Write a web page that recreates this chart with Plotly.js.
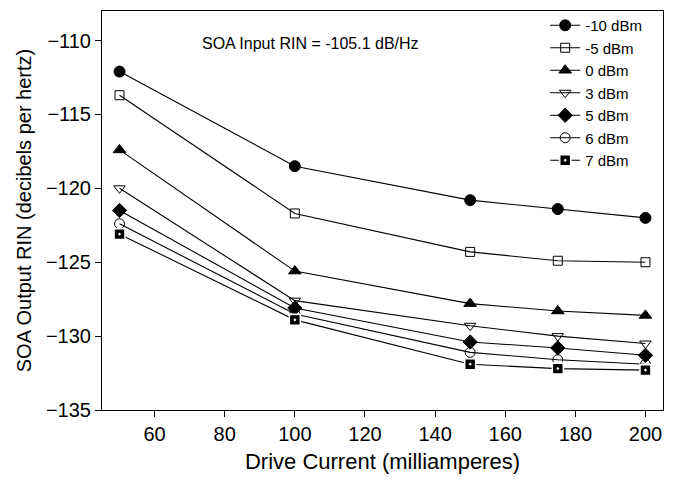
<!DOCTYPE html>
<html>
<head>
<meta charset="utf-8">
<script src="https://cdn.plot.ly/plotly-3.0.1.min.js"></script>
<style>html,body{margin:0;padding:0;background:#fff;}#chart{width:673px;height:480px;}</style>
</head>
<body>
<div id="chart"></div>
<script>
var driveCurrent = [50, 100, 150, 175, 200];
var seriesNames = ["-10 dBm", "-5 dBm", "0 dBm", "3 dBm", "5 dBm", "6 dBm", "7 dBm"];
var rinM10 = [-112.1, -118.5, -120.8, -121.4, -122.0];
var rinM5  = [-113.7, -121.7, -124.3, -124.9, -125.0];
var rin0   = [-117.4, -125.6, -127.8, -128.3, -128.6];
var rin3   = [-120.0, -127.6, -129.3, -130.0, -130.5];
var rin5   = [-121.5, -128.1, -130.4, -130.8, -131.3];
var rin6   = [-122.4, -128.5, -131.1, -131.6, -131.9];
var rin7   = [-123.1, -128.9, -131.9, -132.2, -132.3];
var seriesValues = [rinM10, rinM5, rin0, rin3, rin5, rin6, rin7];

var symbols = ["circle", "square-open", "triangle-up", "triangle-down-open", "diamond", "circle-open", "square-dot"];
var sizes = [11, 9, 11, 10, 11, 10, 11];

var traces = seriesValues.map(function (vals, i) {
  var mk = {symbol: symbols[i], size: sizes[i], color: "#000", line: {color: "#000", width: 1}};
  if (symbols[i] === "square-dot") { mk.line = {color: "#fff", width: 1.6}; }
  return {
    x: driveCurrent, y: vals, name: seriesNames[i],
    type: "scatter", mode: "lines+markers",
    line: {color: "#000", width: 1.1},
    marker: mk
  };
});

var layout = {
  width: 673, height: 480,
  margin: {l: 102, r: 10, t: 9, b: 70},
  paper_bgcolor: "#fff", plot_bgcolor: "#fff",
  font: {family: "Liberation Sans, Arial, sans-serif", color: "#000"},
  showlegend: true,
  legend: {x: 0.79, y: 1.005, xanchor: "left", yanchor: "top", bgcolor: "rgba(0,0,0,0)",
           font: {size: 15}, tracegroupgap: 0},
  xaxis: {
    range: [45, 205], tickvals: [60, 80, 100, 120, 140, 160, 180, 200],
    ticks: "outside", ticklen: 6, tickcolor: "#000", tickfont: {size: 20},
    showgrid: false, zeroline: false, showline: true, linecolor: "#000", linewidth: 1, mirror: true,
    title: {text: "Drive Current (milliamperes)", font: {size: 22}, standoff: 9}
  },
  yaxis: {
    range: [-135, -108], tickvals: [-135, -130, -125, -120, -115, -110],
    ticks: "outside", ticklen: 6, tickcolor: "#000", tickfont: {size: 20},
    showgrid: false, zeroline: false, showline: true, linecolor: "#000", linewidth: 1, mirror: true,
    title: {text: "SOA Output RIN (decibels per hertz)", font: {size: 20}, standoff: 8}
  },
  annotations: [{
    xref: "paper", yref: "paper", x: 0.175, y: 0.918, xanchor: "left", yanchor: "middle",
    text: "SOA Input RIN = -105.1 dB/Hz", showarrow: false, font: {size: 16}
  }]
};

Plotly.newPlot("chart", traces, layout, {displayModeBar: false, staticPlot: true});
</script>
</body>
</html>
